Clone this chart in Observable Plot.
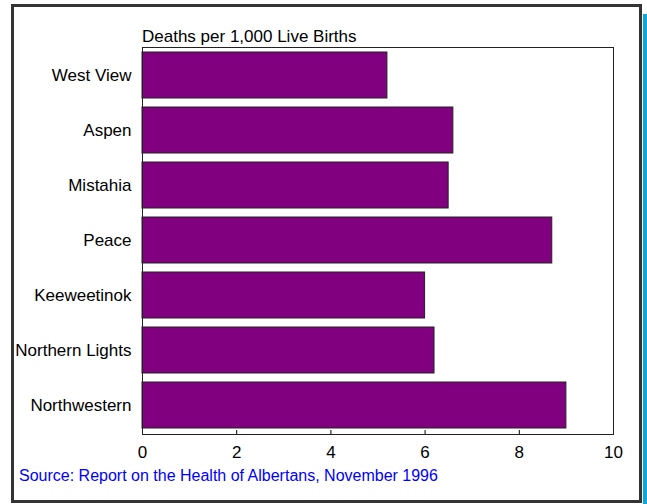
<!DOCTYPE html>
<html>
<head>
<meta charset="utf-8">
<script src="https://cdn.jsdelivr.net/npm/d3@7"></script>
<script src="https://cdn.jsdelivr.net/npm/@observablehq/plot@0.6"></script>
<style>
  html, body { margin: 0; padding: 0; background: #fff; }
  #wrap { position: relative; width: 647px; height: 504px; overflow: hidden; font-family: "Liberation Sans", Arial, sans-serif; }
  #box { position: absolute; left: 11px; top: 4px; width: 631px; height: 499px; box-sizing: border-box; border: 3px solid #333; }
  #strip { position: absolute; left: 643px; top: 14px; width: 4px; height: 490px; background: #14a5d8; }
  #title { position: absolute; left: 142px; top: 28px; font-size: 17px; line-height: 17px; color: #000; white-space: nowrap; }
  #source { position: absolute; left: 19px; top: 468px; font-size: 16px; line-height: 16px; color: #0000ff; white-space: nowrap; }
  #chart { position: absolute; left: 0; top: 40px; }
</style>
</head>
<body>
<div id="wrap">
  <div id="box"></div>
  <div id="strip"></div>
  <div id="title">Deaths per 1,000 Live Births</div>
  <div id="chart"></div>
  <div id="source">Source: Report on the Health of Albertans, November 1996</div>
</div>
<script>
const regions = ["West View", "Aspen", "Mistahia", "Peace", "Keeweetinok", "Northern Lights", "Northwestern"];
const rates = [5.2, 6.6, 6.5, 8.7, 6.0, 6.2, 9.0];
const xTicks = [0, 2, 4, 6, 8, 10];
const innerTicks = [2, 4, 6, 8];

const data = regions.map((r, i) => ({region: r, rate: rates[i]}));

const chart = Plot.plot({
  width: 647,
  height: 425,
  marginLeft: 142,
  marginRight: 34,
  marginTop: 7,
  marginBottom: 31,
  style: {fontFamily: "'Liberation Sans', Arial, sans-serif", fontSize: "17px", color: "#000", background: "transparent"},
  x: {domain: [0, 10], ticks: xTicks},
  y: {domain: regions, paddingInner: 0.16, paddingOuter: 0.05},
  marks: [
    Plot.barX(data, {x: "rate", y: "region", fill: "#800080", stroke: "#222", strokeWidth: 1}),
    Plot.ruleX(innerTicks, {x: d => d, stroke: "#000", insetTop: 383}),
    Plot.frame({stroke: "#222"}),
    Plot.axisX({ticks: xTicks, tickSize: 0, tickPadding: 11, fontSize: 17, label: null}),
    Plot.axisY({tickSize: 0, tickPadding: 11, fontSize: 17, label: null})
  ]
});
document.getElementById("chart").appendChild(chart);
</script>
</body>
</html>
